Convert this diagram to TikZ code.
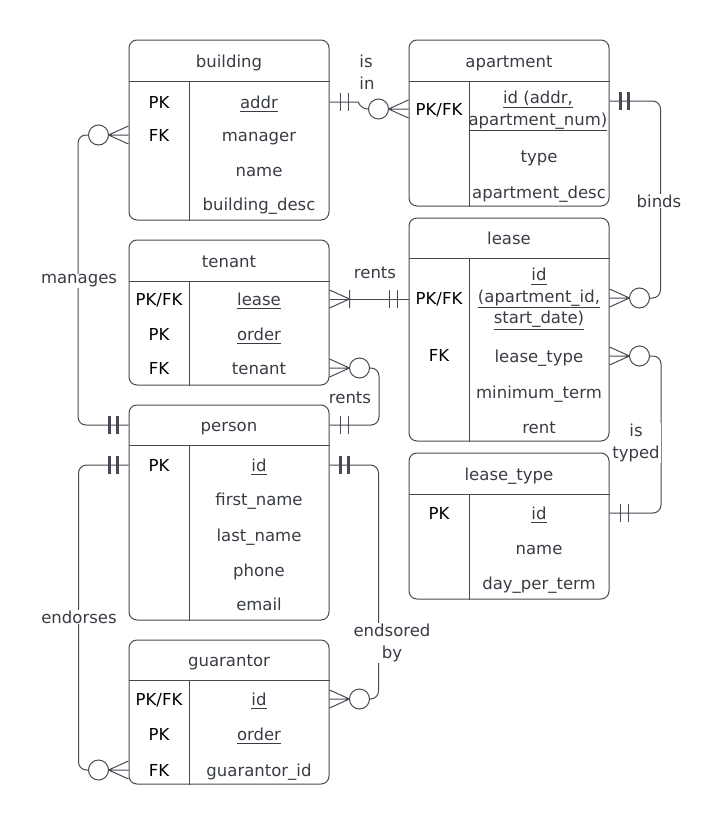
\documentclass[tikz,border=0pt]{standalone}
\usepackage{fontspec}
\setmainfont{DejaVu Sans}
\usepackage{tikz}
\pgfdeclarelayer{bg}
\pgfsetlayers{bg,main}
\definecolor{linec}{HTML}{464A52}
\definecolor{inkc}{HTML}{383C44}
\newcommand{\pkline}[1]{\underline{#1\rule[-2pt]{0pt}{0pt}}}
\tikzset{
    entity/.style={rectangle, draw=linec, rounded corners=8pt, minimum width=200pt, inner sep=0pt},
    rule/.style={draw=linec},
    title/.style={inner sep=0pt, text=inkc, text height=12pt, text depth=0pt},
    attr/.style={inner sep=0pt, text=inkc, text height=12pt, text depth=0pt},
    keyc/.style={inner sep=0pt, text=black, text height=12pt, text depth=0pt},
    multi/.style={inner sep=0pt, text=inkc, align=center},
    conn/.style={draw=linec, line width=1pt, rounded corners=8pt},
    rel/.style={inner sep=1pt, fill=white, text=inkc, align=center},
    knot/.style={circle, draw=linec, fill=white, minimum size=20pt, inner sep=0pt}
}
\tikzset{
    onlyone/.pic={\draw[linec] (11,-9) -- (11,9) (19,-9) -- (19,9);},
    onemany/.pic={\draw[linec] (0,-9) -- (20,0) -- (0,9) (20,-9) -- (20,9);},
    zeromany/.pic={\draw[linec] (0,-9) -- (20,0) -- (0,9) (0,0) -- (20,0);
        \node (-o) [knot] at (30,0) {};}
}

\begin{document}
\begin{tikzpicture}[x=1pt, y=-1pt, line width=1pt, font=\fontsize{16.5}{21.5}\selectfont]
    \useasboundingbox (0,0) rectangle (722,825);

    % tables
    \node (building) [entity, minimum height=180pt] at (229,130) {};
    \node (apartment) [entity, minimum height=166pt] at (509,123) {};
    \node (tenant) [entity, minimum height=145pt] at (229,312.5) {};
    \node (lease) [entity, minimum height=223pt] at (509,329.5) {};
    \node (person) [entity, minimum height=215pt] at (229,512.5) {};
    \node (leasetype) [entity, minimum height=146pt] at (509,526) {};
    \node (guarantor) [entity, minimum height=144pt] at (229,712) {};

    \draw [rule] (building.west |- 0,81) -- (building.east |- 0,81) (189,81) -- (189,0 |- building.south);
    \draw [rule] (apartment.west |- 0,81) -- (apartment.east |- 0,81) (469,81) -- (469,0 |- apartment.south);
    \draw [rule] (tenant.west |- 0,281) -- (tenant.east |- 0,281) (189,281) -- (189,0 |- tenant.south);
    \draw [rule] (lease.west |- 0,258) -- (lease.east |- 0,258) (469,258) -- (469,0 |- lease.south);
    \draw [rule] (person.west |- 0,445) -- (person.east |- 0,445) (189,445) -- (189,0 |- person.south);
    \draw [rule] (leasetype.west |- 0,494) -- (leasetype.east |- 0,494) (469,494) -- (469,0 |- leasetype.south);
    \draw [rule] (guarantor.west |- 0,680) -- (guarantor.east |- 0,680) (189,680) -- (189,0 |- guarantor.south);

    \node (b-title) [title] at (229,61) {building};
    \node (a-title) [title] at (509,61) {apartment};
    \node (t-title) [title] at (229,261) {tenant};
    \node (l-title) [title] at (509,238) {lease};
    \node (p-title) [title] at (229,425) {person};
    \node (lt-title) [title] at (509,474) {lease\_type};
    \node (g-title) [title] at (229,660) {guarantor};

    % building
    \node (b-pk) [keyc] at (159,102) {PK};
    \node (b-fk) [keyc] at (159,135) {FK};
    \node (b-addr) [attr] at (259,102) {\pkline{addr}};
    \node (b-mgr) [attr] at (259,135) {manager};
    \node (b-name) [attr] at (259,170) {name};
    \node (b-desc) [attr] at (259,204) {building\_desc};

    % apartment
    \node (a-pkfk) [keyc] at (439,109) {PK/FK};
    \node (a-id) [multi] at (538,111) {\pkline{id (addr,}\\\pkline{apartment\_num)}};
    \node (a-type) [attr] at (539,156) {type};
    \node (a-desc) [attr] at (539,192) {apartment\_desc};

    % tenant
    \node (t-pkfk) [keyc] at (159,299) {PK/FK};
    \node (t-pk) [keyc] at (159,334) {PK};
    \node (t-fk) [keyc] at (159,368) {FK};
    \node (t-lease) [attr] at (259,299) {\pkline{lease}};
    \node (t-order) [attr] at (259,334) {\pkline{order}};
    \node (t-tenant) [attr] at (259,368) {tenant};

    % lease
    \node (l-pkfk) [keyc] at (439,298) {PK/FK};
    \node (l-fk) [keyc] at (439,355) {FK};
    \node (l-id) [multi] at (539,299) {\pkline{id}\\\pkline{(apartment\_id,}\\\pkline{start\_date)}};
    \node (l-type) [attr] at (539,356) {lease\_type};
    \node (l-term) [attr] at (539,392) {minimum\_term};
    \node (l-rent) [attr] at (539,427) {rent};

    % person
    \node (p-pk) [keyc] at (159,465) {PK};
    \node (p-id) [attr] at (259,465) {\pkline{id}};
    \node (p-first) [attr] at (259,499) {first\_name};
    \node (p-last) [attr] at (259,535) {last\_name};
    \node (p-phone) [attr] at (259,570) {phone};
    \node (p-email) [attr] at (259,604) {email};

    % lease_type
    \node (lt-pk) [keyc] at (439,513) {PK};
    \node (lt-id) [attr] at (539,513) {\pkline{id}};
    \node (lt-name) [attr] at (539,548) {name};
    \node (lt-days) [attr] at (539,583) {day\_per\_term};

    % guarantor
    \node (g-pkfk) [keyc] at (159,699) {PK/FK};
    \node (g-pk) [keyc] at (159,734) {PK};
    \node (g-fk) [keyc] at (159,770) {FK};
    \node (g-id) [attr] at (259,699) {\pkline{id}};
    \node (g-order) [attr] at (259,734) {\pkline{order}};
    \node (g-gid) [attr] at (259,770) {guarantor\_id};

    % relationship ends
    \pic at (building.east |- b-addr) {onlyone};
    \pic (isin) [rotate=180] at (apartment.west |- a-pkfk) {zeromany};
    \pic [line width=2.4pt] at ([yshift=10pt]apartment.east |- a-id) {onlyone};
    \pic (binds) at (lease.east |- l-pkfk) {zeromany};
    \pic at (tenant.east |- t-lease) {onemany};
    \pic [rotate=180] at (lease.west |- t-lease) {onlyone};
    \pic (rents) at (tenant.east |- t-tenant) {zeromany};
    \pic at (person.east |- p-title) {onlyone};
    \pic (mng) [rotate=180] at (building.west |- b-mgr) {zeromany};
    \pic [rotate=180, line width=2.4pt] at (person.west |- p-title) {onlyone};
    \pic [rotate=180, line width=2.4pt] at (person.west |- p-id) {onlyone};
    \pic (endo) [rotate=180] at (guarantor.west |- g-gid) {zeromany};
    \pic [line width=2.4pt] at (person.east |- p-id) {onlyone};
    \pic (endby) at (guarantor.east |- g-id) {zeromany};
    \pic (typed) at (lease.east |- l-type) {zeromany};
    \pic at (leasetype.east |- lt-id) {onlyone};

    \begin{pgfonlayer}{bg}
        \draw [conn] (building.east |- b-addr) -- ++(21,0) to[out=0, in=180] (isin-o.west);
        \draw [conn] ([yshift=10pt]apartment.east |- a-id) -- ++(51,0) |- (binds-o.east);
        \draw [conn] (tenant.east |- t-lease) -- (lease.west |- t-lease);
        \draw [conn] (rents-o.east) -- ++(9,0) |- (person.east |- p-title);
        \draw [conn] (mng-o.west) -- ++(-10,0) |- (person.west |- p-title);
        \draw [conn] (person.west |- p-id) -- ++(-50,0) |- (endo-o.west);
        \draw [conn] (person.east |- p-id) -- ++(49,0) |- (endby-o.east);
        \draw [conn] (typed-o.east) -- ++(11,0) |- (leasetype.east |- lt-id);
    \end{pgfonlayer}

    % relationship names
    \node (r-isin) [rel, align=left] at (367,72) {is\\in};
    \node (r-binds) [rel] at (659,201) {binds};
    \node (r-rents1) [rel] at (375,273) {rents};
    \node (r-rents2) [rel] at (350,398) {rents};
    \node (r-mng) [rel] at (79,281) {manages};
    \node (r-endo) [rel] at (79,617) {endorses};
    \node (r-endby) [rel] at (392,643) {endsored\\by};
    \node (r-typed) [rel] at (636,443) {is\\typed};
\end{tikzpicture}
\end{document}
